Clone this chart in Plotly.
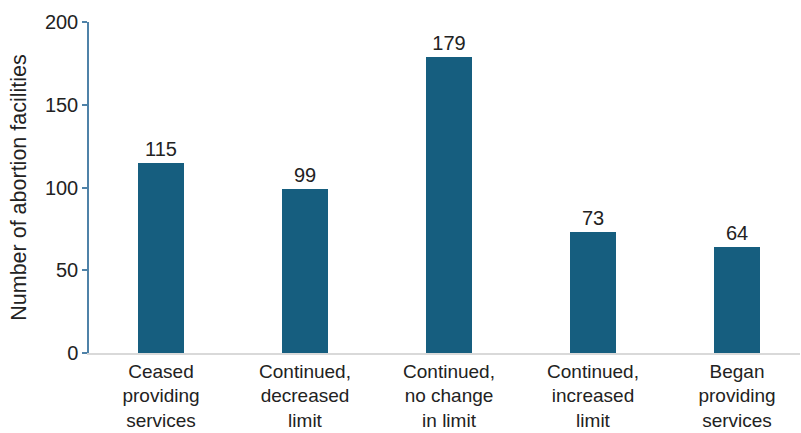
import plotly.graph_objects as go

categories = ["Ceased<br>providing<br>services", "Continued,<br>decreased<br>limit",
              "Continued,<br>no change<br>in limit", "Continued,<br>increased<br>limit",
              "Began<br>providing<br>services"]
values = [115, 99, 179, 73, 64]
y_ticks = [0, 50, 100, 150, 200]

bar_color = "#165e7f"
fig = go.Figure(go.Bar(
    x=list(range(len(categories))), y=values, marker_color=bar_color,
    marker_line_width=0, width=0.32,
    text=[str(v) for v in values], textposition="outside",
    textfont=dict(size=20, color="#222222"), cliponaxis=False,
))
fig.update_layout(
    width=801, height=433, margin=dict(l=89, r=1, t=22, b=80),
    plot_bgcolor="white", paper_bgcolor="white",
    font=dict(family="Liberation Sans, Arial, sans-serif", color="#222222"),
    showlegend=False, bargap=0,
)
fig.update_xaxes(
    tickmode="array", tickvals=list(range(len(categories))), ticktext=categories,
    range=[-0.5, 4.4375], showgrid=False, zeroline=False, automargin=False,
    showline=True, linecolor="#d9d9d9", linewidth=1.5, ticks="",
    tickfont=dict(size=19, color="#222222"),
)
fig.update_yaxes(
    range=[0, 200], tickvals=y_ticks, showgrid=False, zeroline=False, automargin=False,
    showline=True, linecolor="#4f82a8", linewidth=1.5,
    ticks="outside", ticklen=5, tickcolor="#4f82a8", tickwidth=1.5,
    tickfont=dict(size=20, color="#222222"),
    title=dict(text="Number of abortion facilities", font=dict(size=21.5, color="#222222"), standoff=12),
)
fig.write_html("out.html")
